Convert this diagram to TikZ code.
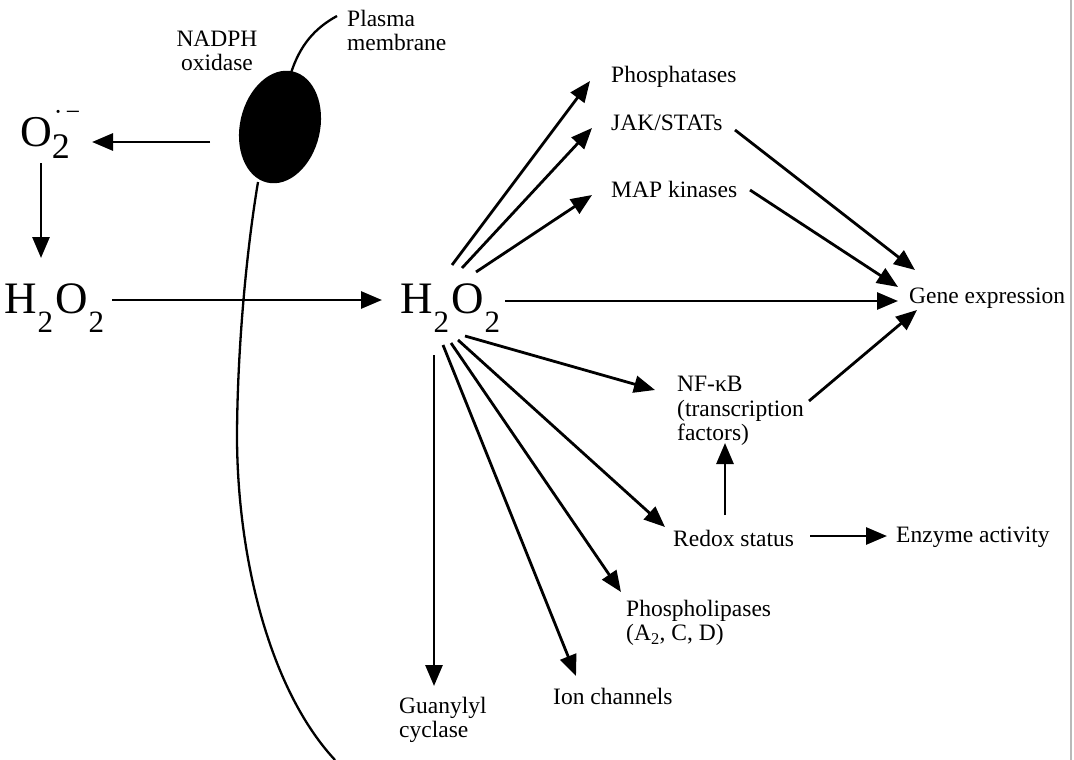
\documentclass[tikz,border=0pt]{standalone}
\usepackage{fontspec}
\setmainfont{Liberation Serif}
\usetikzlibrary{arrows.meta}
\newcommand{\hoo}{H\kern1pt\raisebox{-19pt}{\fontsize{31}{31}\selectfont 2}\kern2pt O\kern1pt\raisebox{-19pt}{\fontsize{31}{31}\selectfont 2}}
\newcommand{\superox}{O\rlap{\raisebox{-13pt}{\fontsize{36}{36}\selectfont 2}}\raisebox{25pt}{\fontsize{26}{26}\selectfont\kern2pt·\kern3pt−}}
\tikzset{
  lbl/.style={font=\fontsize{23.5}{24}\selectfont, inner sep=0pt, anchor=west, align=left},
  big/.style={font=\fontsize{45}{45}\selectfont, inner sep=0pt, anchor=base west},
  arr/.style={line width=2.8pt, -{Triangle[length=21pt,width=17pt]}},
  membrane/.style={line width=2.3pt}
}
\begin{document}
\begin{tikzpicture}[x=1pt,y=-1pt]
\useasboundingbox[fill=white] (0,0) rectangle (1074,760);
% membrane and NADPH oxidase
\fill[rotate around={-13:(280,127)}] (280,127) ellipse [x radius=40pt, y radius=57pt];
\draw[membrane] (291,73) .. controls (300,45) and (315,28) .. (337,16);
\draw[membrane] (258,182) .. controls (245,260) and (237,360) .. (237,440)
      .. controls (238,560) and (270,690) .. (335,760);
\draw[gray!55, line width=2pt] (1071,0) -- (1071,760);
% labels
\node[lbl, align=center, anchor=center] (nadph) at (217,51) {NADPH\\oxidase};
\node[lbl] (plasma) at (347,30) {Plasma\\membrane};
\node[big, font=\fontsize{44}{44}\selectfont] (o2) at (20,146) {\superox};
\node[big] (h2l) at (4,313) {\hoo};
\node[big] (h2c) at (400,313) {\hoo};
\node[lbl] (phos) at (611,77) {Phosphatases};
\node[lbl] (jak) at (611,123) {JAK/STATs};
\node[lbl] (map) at (611,189) {MAP kinases};
\node[lbl] (gene) at (909,298) {Gene expression};
\node[lbl, anchor=north west, font=\fontsize{23.5}{24.5}\selectfont] (nfkb) at (677,376) {NF-κB\\(transcription\\factors)};
\node[lbl] (redox) at (673,538) {Redox status};
\node[lbl] (enz) at (896,537) {Enzyme activity};
\node[lbl, anchor=north west] (phl) at (626,600) {Phospholipases\\(A\textsubscript{2}, C, D)};
\node[lbl] (ion) at (553,696) {Ion channels};
\node[lbl, anchor=north west] (gua) at (399,697) {Guanylyl\\cyclase};
% connector end points
\coordinate (ox) at (210,142);
\coordinate (o2in) at (92,142);
\coordinate (o2out) at (41,163);
\coordinate (h2lin) at (41,258);
\coordinate (h2lout) at (112,300);
\coordinate (h2cin) at (382,300);
\coordinate (s1) at (452,265); \coordinate (e1) at (590,81);
\coordinate (s2) at (462,268); \coordinate (e2) at (592,128);
\coordinate (s3) at (476,272); \coordinate (e3) at (592,195);
\coordinate (s4) at (735,130); \coordinate (e4) at (915,270);
\coordinate (s5) at (750,190); \coordinate (e5) at (898,287);
\coordinate (s6) at (505,301); \coordinate (e6) at (898,301);
\coordinate (s7) at (809,401); \coordinate (e7) at (917,310);
\coordinate (s8) at (465,336); \coordinate (e8) at (655,390);
\coordinate (s9) at (725,515); \coordinate (e9) at (725,443);
\coordinate (s10) at (810,536); \coordinate (e10) at (887,536);
\coordinate (s11) at (458,340); \coordinate (e11) at (665,527);
\coordinate (s12) at (451,343); \coordinate (e12) at (621,592);
\coordinate (s13) at (443,345); \coordinate (e13) at (576,676);
\coordinate (s14) at (434,355); \coordinate (e14) at (434,686);
% connectors
\draw[arr] (ox) -- (o2in);
\draw[arr] (o2out) -- (h2lin);
\draw[arr] (h2lout) -- (h2cin);
\draw[arr] (s1) -- (e1);
\draw[arr] (s2) -- (e2);
\draw[arr] (s3) -- (e3);
\draw[arr] (s4) -- (e4);
\draw[arr] (s5) -- (e5);
\draw[arr] (s6) -- (e6);
\draw[arr] (s7) -- (e7);
\draw[arr] (s8) -- (e8);
\draw[arr] (s9) -- (e9);
\draw[arr] (s10) -- (e10);
\draw[arr] (s11) -- (e11);
\draw[arr] (s12) -- (e12);
\draw[arr] (s13) -- (e13);
\draw[arr] (s14) -- (e14);
\end{tikzpicture}
\end{document}
